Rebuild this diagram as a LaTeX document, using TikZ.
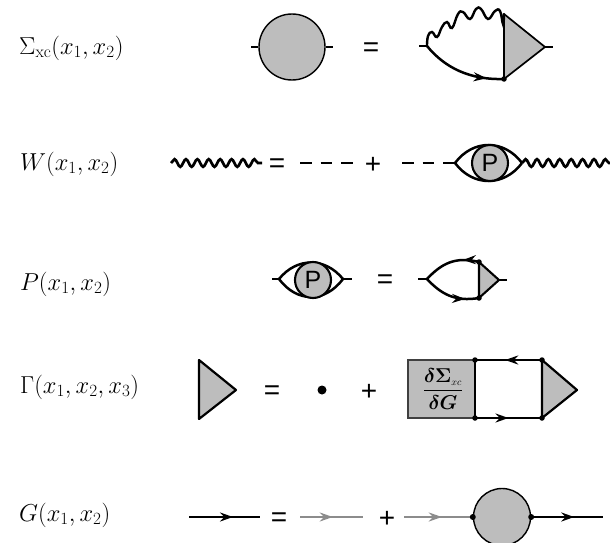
\RequirePackage{fix-cm}
\documentclass[tikz,border=0pt]{standalone}
\usepackage{amsmath}
\usepackage{fontspec}
\newfontfamily\symf{Liberation Sans}
\usetikzlibrary{arrows.meta,decorations.pathmorphing,decorations.markings}
\definecolor{blob}{HTML}{BDBDBD}
\definecolor{bare}{HTML}{8C8C8C}
\tikzset{
  x=1pt,y=-1pt,
  thinedge/.style={line width=1.7pt,black},
  edge/.style={line width=2.5pt,black},
  bareedge/.style={line width=2.3pt,bare},
  blobshape/.style={circle,draw=black,line width=1.4pt,fill=blob,inner sep=0pt,minimum size=#1},
  pshape/.style={circle,draw=black,line width=2.1pt,fill=blob,inner sep=0pt,minimum size=36pt,font=\symf\fontsize{25}{25}\selectfont},
  tri/.style={draw=black,fill=blob,line width=1.7pt,line join=round},
  vertexdot/.style={circle,fill=black,inner sep=0pt,minimum size=#1},
  lab/.style={anchor=west,inner sep=0pt,font=\fontsize{24.5}{28}\selectfont},
  sym/.style={inner sep=0pt,yshift=-2.5pt,font=\symf\fontsize{28}{28}\selectfont},
  wiggle/.style={line width=2.7pt,decorate,decoration={snake,segment length=#1,amplitude=3.8pt}},
  dashline/.style={line width=2.6pt,dash pattern=on 11.5pt off 9pt},
  arrowat/.style={postaction={decorate,decoration={markings,mark=at position #1 with {\arrow{Stealth[length=13pt,width=9pt]}}}}},
}
\begin{document}
\begin{tikzpicture}
\useasboundingbox (0,0) rectangle (610,543);
% labels
\node[lab] (l1) at (19,48) {$\Sigma_{\mathrm{xc}}(x_1,x_2)$};
\node[lab] (l2) at (20,164) {$W(x_1,x_2)$};
\node[lab] (l3) at (20,284) {$P(x_1,x_2)$};
\node[lab] (l4) at (20,387) {$\Gamma(x_1,x_2,x_3)$};
\node[lab] (l5) at (19,515) {$G(x_1,x_2)$};
% row 1
\node[blobshape=66pt] (s) at (292,47) {};
\coordinate (s1) at (251,47); \coordinate (s2) at (333,47);
\draw[thinedge] (s1) -- (s.west); \draw[thinedge] (s.east) -- (s2);
\node[sym] (e1) at (371,47) {=};
\coordinate (a) at (427,46); \coordinate (a0) at (419,46);
\coordinate (t1) at (504,14); \coordinate (t2) at (504,79); \coordinate (t3) at (545,47); \coordinate (t4) at (553,47);
\draw[thinedge] (a0) -- (a);
\draw[thinedge] (t3) -- (t4);
\draw[tri] (t1) -- (t3) -- (t2) -- cycle;
\draw[line width=2.4pt,line cap=round] plot[smooth,tension=0.75] coordinates {(427,46) (428,36) (432,32) (437,37) (442,27) (447,22) (452,28) (458,14) (463,12) (470,19) (476,9) (481,9) (488,19) (495,11) (500,11) (503,24) (504,14)};
\draw[edge,arrowat=0.8] (a) .. controls (445,68) and (470,80) .. (t2);
\node[vertexdot=5.5pt] (d1) at (t2) {};
% row 2
\coordinate (w1) at (171,163); \coordinate (w2) at (262,163);
\draw[wiggle=11.4pt] (w1) -- (w2);
\node[sym] (e2) at (277,163) {=};
\coordinate (d2a) at (300,163); \coordinate (d2b) at (354,163);
\draw[dashline] (d2a) -- (d2b);
\node[sym] (p2) at (373,163) {+};
\coordinate (d3a) at (402,163); \coordinate (ev) at (455,163); \coordinate (ew) at (522,163); \coordinate (wend) at (610,163);
\draw[dashline] (d3a) -- (ev);
\draw[edge] (ev) .. controls (473,139) and (504,139) .. (ew);
\draw[edge] (ev) .. controls (473,187) and (504,187) .. (ew);
\node[pshape] (p1) at (490,163) {P};
\draw[wiggle=11.4pt] (ew) -- (wend);
% row 3
\coordinate (ea0) at (272,279); \coordinate (ea) at (279,279); \coordinate (eb) at (343,279); \coordinate (eb0) at (352,279);
\draw[edge] (ea0) -- (ea); \draw[edge] (eb) -- (eb0);
\draw[edge] (ea) .. controls (297,257) and (325,257) .. (eb);
\draw[edge] (ea) .. controls (297,303) and (325,303) .. (eb);
\node[pshape] (p3) at (313,280) {P};
\node[sym] (e3) at (385,279) {=};
\coordinate (f0) at (418,279); \coordinate (f) at (427,279);
\coordinate (g1) at (479,262); \coordinate (g2) at (479,298); \coordinate (g3) at (499,280); \coordinate (g4) at (507,280);
\draw[edge] (f0) -- (f); \draw[edge] (g3) -- (g4);
\draw[tri,line width=2.1pt] (g1) -- (g3) -- (g2) -- cycle;
\draw[edge,arrowat=0.28] (g1) .. controls (455,256) and (441,264) .. (f);
\draw[edge,arrowat=0.76] (f) .. controls (441,294) and (455,302) .. (g2);
\node[vertexdot=5.5pt] (d3) at (g1) {};
\node[vertexdot=5.5pt] (d4) at (g2) {};
% row 4
\coordinate (h1) at (199,360); \coordinate (h2) at (199,419); \coordinate (h3) at (236,390);
\draw[tri,line width=2.2pt] (h1) -- (h3) -- (h2) -- cycle;
\node[sym] (e4) at (272,390) {=};
\node[vertexdot=9pt] (d5) at (322,390) {};
\node[sym] (p4) at (369,390) {+};
\node[draw=black!75,fill=blob,line width=1.8pt,minimum width=67pt,minimum height=58pt,inner sep=0pt] (kern) at (441.5,389) {};
\node[inner sep=0pt,font=\fontsize{20}{24}\selectfont] (kernlabel) at (443,389) {$\dfrac{\boldsymbol{\delta\Sigma}_{\scriptscriptstyle xc}}{\boldsymbol{\delta G}}$};
\coordinate (k1) at (475,360); \coordinate (k2) at (475,418);
\coordinate (m1) at (542,360); \coordinate (m2) at (542,418); \coordinate (m3) at (577,390);
\draw[tri,line width=2.2pt] (m1) -- (m3) -- (m2) -- cycle;
\draw[edge] (k1) -- (k2);
\draw[edge,arrowat=0.55] (m1) -- (k1);
\draw[edge,arrowat=0.5] (k2) -- (m2);
\foreach \p/\n in {k1/a,k2/b,m1/c,m2/d} \node[vertexdot=5.5pt] (dd\n) at (\p) {};
% row 5
\coordinate (n1) at (189,517); \coordinate (n2) at (260,517);
\draw[edge,arrowat=0.62] (n1) -- (n2);
\node[sym] (e5) at (279,517) {=};
\coordinate (o1) at (300,517); \coordinate (o2) at (363,517);
\draw[bareedge,arrowat=0.52] (o1) -- (o2);
\node[sym] (p5) at (387,517) {+};
\node[blobshape=57pt] (g) at (502,517) {};
\coordinate (q1) at (404,517); \coordinate (q3) at (603,517);
\draw[bareedge,arrowat=0.55] (q1) -- (g.west);
\draw[edge,arrowat=0.6] (g.east) -- (q3);
\node[vertexdot=6pt] (d6) at (g.west) {};
\node[vertexdot=6pt] (d7) at (g.east) {};
\end{tikzpicture}
\end{document}
